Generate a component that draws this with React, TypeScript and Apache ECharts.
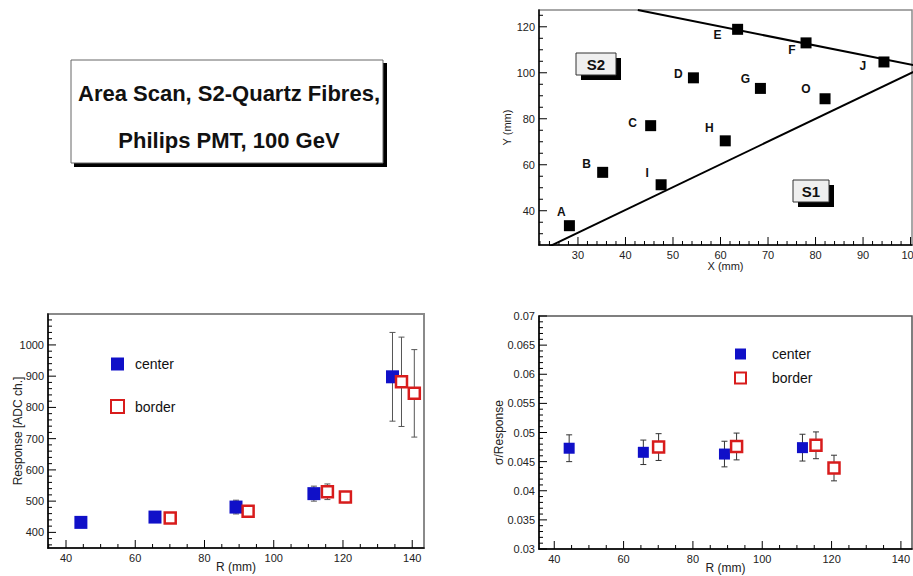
import React, { useEffect, useRef } from "react";
import * as echarts from "echarts";

// ---- Area scan: scan points in the X/Y plane of the module ----
const pointNames = ["A", "B", "C", "D", "E", "F", "G", "H", "I", "J", "O"];
const pointX = [28.2, 35.2, 45.3, 54.3, 63.6, 78.0, 68.4, 61.0, 47.5, 94.4, 82.0];
const pointY = [33.5, 56.7, 77.0, 97.8, 118.9, 113.0, 93.2, 70.4, 51.3, 104.7, 88.7];

// fibre-region boundaries (two straight edges)
const upperEdgeX = [42.6, 100.6];
const upperEdgeY = [127.3, 103.3];
const lowerEdgeX = [24.0, 100.6];
const lowerEdgeY = [24.5, 100.4];

// ---- Mean response vs. radius ----
const centerR = [44.3, 65.7, 89.1, 111.6, 134.3];
const centerResp = [432, 449, 481, 524, 898];
const centerRespErr = [12, 12, 22, 24, 142];

const borderR = [70.1, 92.6, 115.5, 120.7, 136.9, 140.6];
const borderResp = [446, 468, 530, 513, 882, 845];
const borderRespErr = [12, 14, 25, 18, 143, 140];

// ---- Relative resolution vs. radius ----
const sigmaCenterR = [44.3, 65.7, 89.1, 111.6];
const sigmaCenter = [0.0473, 0.0466, 0.0463, 0.0474];
const sigmaCenterErr = [0.0023, 0.0021, 0.0022, 0.0023];

const sigmaBorderR = [70.1, 92.6, 115.5, 120.7];
const sigmaBorder = [0.0475, 0.0476, 0.0478, 0.0439];
const sigmaBorderErr = [0.0023, 0.0023, 0.0023, 0.0022];

const titleLines = ["Area Scan, S2-Quartz Fibres,", "Philips PMT, 100 GeV"];

// axis ranges and tick steps: [min, max, major step, minor step]
const mapXAxis = [21.8, 100.3, 10, 2];
const mapYAxis = [25.1, 127.3, 20, 5];
const respXAxis = [34.8, 143.4, 20, 5];
const respYAxis = [350, 1099, 100, 20];
const sigXAxis = [35.6, 143.2, 20, 5];
const sigYAxis = [0.03, 0.07, 0.005, 0.001];

const panelAxes = [
  [mapXAxis, mapYAxis],
  [respXAxis, respYAxis],
  [sigXAxis, sigYAxis],
];

// label placement of the scan-point letters (pixel offset from the marker)
const letterOffsets: Record<string, [number, number]> = {
  A: [-8, -14],
  B: [-16, -8],
  C: [-18, -3],
  D: [-15, -4],
  E: [-20, 6],
  F: [-14, 7],
  G: [-15, -9],
  H: [-16, -13],
  I: [-14, -12],
  J: [-21, 4],
  O: [-19, -10],
};

const FONT = "'Liberation Sans', Arial, Helvetica, sans-serif";
const BLUE = "#1010c8";
const RED = "#d81c1c";

const plainNumber = (v: number) => String(+v.toPrecision(6));

// pixel boxes of the three plot frames
const frames = [
  { left: 539, top: 10, width: 373, height: 235, color: "#8a8a8a", lw: 1.5 },
  { left: 48, top: 314, width: 376, height: 234, color: "#8a8a8a", lw: 2 },
  { left: 539, top: 316, width: 373, height: 233, color: "#555", lw: 1.5 },
];

function valueAxis(range: number[], extra: any) {
  return {
    type: "value",
    min: range[0],
    max: range[1],
    axisLine: { show: true, onZero: false, lineStyle: { color: "#000", width: 1.5 } },
    axisTick: { show: false },
    minorTick: { show: false },
    splitLine: { show: false },
    axisLabel: {
      color: "#222",
      fontSize: 11,
      fontFamily: FONT,
      margin: 4,
      showMinLabel: false,
      showMaxLabel: false,
      formatter: plainNumber,
    },
    nameLocation: "middle",
    nameMoveOverlap: false,
    nameTextStyle: { color: "#222", fontSize: 12, fontFamily: FONT },
    ...extra,
  };
}

// tick values of an axis range: [value, isMajor]
function tickValues(axis: number[]): [number, boolean][] {
  const [min, max, major, minor] = axis;
  const ratio = Math.round(major / minor);
  const out: [number, boolean][] = [];
  for (let k = Math.ceil(min / minor - 1e-9); k * minor <= max + 1e-9; k++) {
    out.push([k * minor, k % ratio === 0]);
  }
  return out;
}

function errorBars(capHalf: number, color: string) {
  return (params: any, api: any) => {
    const x = api.value(0);
    const top = api.coord([x, api.value(2)]);
    const bot = api.coord([x, api.value(1)]);
    const style = { stroke: color, lineWidth: 1 };
    return {
      type: "group",
      children: [
        { type: "line", shape: { x1: top[0], y1: top[1], x2: bot[0], y2: bot[1] }, style },
        { type: "line", shape: { x1: top[0] - capHalf, y1: top[1], x2: top[0] + capHalf, y2: top[1] }, style },
        { type: "line", shape: { x1: bot[0] - capHalf, y1: bot[1], x2: bot[0] + capHalf, y2: bot[1] }, style },
      ],
    };
  };
}

const zip2 = (xs: number[], ys: number[]) => xs.map((x, i) => [x, ys[i]]);
const zipErr = (xs: number[], ys: number[], es: number[]) =>
  xs.map((x, i) => [x, ys[i] - es[i], ys[i] + es[i]]);

function staticGraphics(): any[] {
  return [
    // plot frames (top/right edges show; left/bottom are covered by the axes)
    ...frames.map((f) => ({
      type: "rect", z: -1, silent: true,
      shape: { x: f.left, y: f.top, width: f.width, height: f.height },
      style: { fill: "none", stroke: f.color, lineWidth: f.lw },
    })),
    // title box with drop shadow
    { type: "rect", shape: { x: 74, y: 63, width: 313, height: 104 }, style: { fill: "#000" }, silent: true },
    { type: "rect", shape: { x: 71, y: 60, width: 312, height: 103 }, style: { fill: "#fff", stroke: "#666", lineWidth: 1 }, silent: true },
    {
      type: "text", x: 229, y: 93, silent: true,
      style: { text: titleLines[0], fill: "#111", font: `bold 22px ${FONT}`, align: "center", verticalAlign: "middle" },
    },
    {
      type: "text", x: 229, y: 140, silent: true,
      style: { text: titleLines[1], fill: "#111", font: `bold 22px ${FONT}`, align: "center", verticalAlign: "middle" },
    },
    // region tags
    { type: "rect", shape: { x: 581, y: 58, width: 40, height: 22 }, style: { fill: "#000" }, silent: true, z: 10 },
    { type: "rect", shape: { x: 576, y: 53, width: 40, height: 22 }, style: { fill: "#efefef", stroke: "#333", lineWidth: 1 }, silent: true, z: 10 },
    {
      type: "text", x: 596, y: 64, z: 10, silent: true,
      style: { text: "S2", fill: "#111", font: `bold 15px ${FONT}`, align: "center", verticalAlign: "middle" },
    },
    { type: "rect", shape: { x: 798, y: 185, width: 36, height: 22 }, style: { fill: "#000" }, silent: true, z: 10 },
    { type: "rect", shape: { x: 793, y: 180, width: 36, height: 22 }, style: { fill: "#efefef", stroke: "#333", lineWidth: 1 }, silent: true, z: 10 },
    {
      type: "text", x: 811, y: 191, z: 10, silent: true,
      style: { text: "S1", fill: "#111", font: `bold 15px ${FONT}`, align: "center", verticalAlign: "middle" },
    },
  ];
}

// inward-pointing ticks along the bottom and left axes, placed through each grid's scales
function tickGraphics(chart: any): any[] {
  const out: any[] = [];
  const style = { stroke: "#000", lineWidth: 1 };
  panelAxes.forEach(([xAx, yAx], gridIndex) => {
    tickValues(xAx).forEach(([v, isMajor]) => {
      const p = chart.convertToPixel({ gridIndex }, [v, yAx[0]]);
      if (!p) return;
      const len = isMajor ? 8 : 4;
      out.push({ type: "line", silent: true, z: 20, shape: { x1: p[0], y1: p[1], x2: p[0], y2: p[1] - len }, style });
    });
    tickValues(yAx).forEach(([v, isMajor]) => {
      const p = chart.convertToPixel({ gridIndex }, [xAx[0], v]);
      if (!p) return;
      const len = isMajor ? 8 : 4;
      out.push({ type: "line", silent: true, z: 20, shape: { x1: p[0], y1: p[1], x2: p[0] + len, y2: p[1] }, style });
    });
  });
  return out;
}

function buildOption(): any {
  return {
    animation: false,
    backgroundColor: "#ffffff",
    textStyle: { fontFamily: FONT },
    grid: frames.map((f) => ({
      left: f.left, top: f.top, width: f.width, height: f.height,
      show: false, outerBoundsMode: "none",
    })),
    xAxis: [
      valueAxis(mapXAxis, {
        gridIndex: 0, splitNumber: 8,
        name: "X (mm)", nameGap: 15, nameTextStyle: { color: "#222", fontSize: 11, fontFamily: FONT },
      }),
      valueAxis(respXAxis, { gridIndex: 1, splitNumber: 5, name: "R (mm)", nameGap: 13 }),
      valueAxis(sigXAxis, { gridIndex: 2, splitNumber: 5, name: "R (mm)", nameGap: 13 }),
    ],
    yAxis: [
      valueAxis(mapYAxis, {
        gridIndex: 0, splitNumber: 5,
        name: "Y (mm)", nameGap: 27, nameTextStyle: { color: "#222", fontSize: 11, fontFamily: FONT },
      }),
      valueAxis(respYAxis, { gridIndex: 1, splitNumber: 7, name: "Response [ADC ch.]", nameGap: 24 }),
      valueAxis(sigYAxis, {
        gridIndex: 2, splitNumber: 8,
        axisLabel: {
          color: "#222", fontSize: 11, fontFamily: FONT, margin: 4,
          showMinLabel: true, showMaxLabel: true, formatter: plainNumber,
        },
        name: "σ/Response", nameGap: 34,
      }),
    ],
    legend: [
      {
        data: ["center", "border"], orient: "vertical", left: 105, top: 352,
        itemWidth: 13, itemHeight: 13, itemGap: 28, selectedMode: false,
        textStyle: { fontSize: 14, color: "#111", fontFamily: FONT, padding: [0, 0, 0, 6] },
      },
      {
        data: ["center", "border"], orient: "vertical", left: 729, top: 342,
        itemWidth: 11, itemHeight: 11, itemGap: 10, selectedMode: false,
        textStyle: { fontSize: 14, color: "#111", fontFamily: FONT, padding: [0, 0, 0, 21] },
      },
    ],
    graphic: staticGraphics(),
    series: [
      // --- area scan map ---
      {
        type: "line", xAxisIndex: 0, yAxisIndex: 0, symbol: "none", clip: true,
        data: zip2(upperEdgeX, upperEdgeY), lineStyle: { color: "#000", width: 2 },
      },
      {
        type: "line", xAxisIndex: 0, yAxisIndex: 0, symbol: "none", clip: true,
        data: zip2(lowerEdgeX, lowerEdgeY), lineStyle: { color: "#000", width: 2 },
      },
      {
        type: "scatter", xAxisIndex: 0, yAxisIndex: 0, symbol: "rect", symbolSize: 11,
        itemStyle: { color: "#000", opacity: 1 },
        data: pointNames.map((n, i) => ({
          name: n, value: [pointX[i], pointY[i]], label: { offset: letterOffsets[n] },
        })),
        label: {
          show: true, position: "inside", formatter: "{b}",
          color: "#111", fontSize: 12, fontWeight: "bold", fontFamily: FONT,
        },
      },
      // --- response vs R ---
      {
        type: "custom", name: "centerErr", xAxisIndex: 1, yAxisIndex: 1,
        renderItem: errorBars(3, "#555"), encode: { x: 0, y: [1, 2] },
        data: zipErr(centerR, centerResp, centerRespErr),
      },
      {
        type: "custom", name: "borderErr", xAxisIndex: 1, yAxisIndex: 1,
        renderItem: errorBars(3, "#555"), encode: { x: 0, y: [1, 2] },
        data: zipErr(borderR, borderResp, borderRespErr),
      },
      {
        type: "scatter", name: "center", xAxisIndex: 1, yAxisIndex: 1, symbol: "rect", symbolSize: 13, z: 3,
        itemStyle: { color: BLUE, opacity: 1 }, data: zip2(centerR, centerResp),
      },
      {
        type: "scatter", name: "border", xAxisIndex: 1, yAxisIndex: 1, symbol: "rect", symbolSize: 11, z: 4,
        itemStyle: { color: "#fff", borderColor: RED, borderWidth: 2.5, opacity: 1 },
        data: zip2(borderR, borderResp),
      },
      // --- sigma/response vs R ---
      {
        type: "custom", name: "sigmaCenterErr", xAxisIndex: 2, yAxisIndex: 2,
        renderItem: errorBars(3, "#333"), encode: { x: 0, y: [1, 2] },
        data: zipErr(sigmaCenterR, sigmaCenter, sigmaCenterErr),
      },
      {
        type: "custom", name: "sigmaBorderErr", xAxisIndex: 2, yAxisIndex: 2,
        renderItem: errorBars(3, "#333"), encode: { x: 0, y: [1, 2] },
        data: zipErr(sigmaBorderR, sigmaBorder, sigmaBorderErr),
      },
      {
        type: "scatter", name: "center", xAxisIndex: 2, yAxisIndex: 2, symbol: "rect", symbolSize: 11, z: 3,
        itemStyle: { color: BLUE, opacity: 1 }, data: zip2(sigmaCenterR, sigmaCenter),
      },
      {
        type: "scatter", name: "border", xAxisIndex: 2, yAxisIndex: 2, symbol: "rect", symbolSize: 11, z: 4,
        itemStyle: { color: "#fff", borderColor: RED, borderWidth: 2.5, opacity: 1 },
        data: zip2(sigmaBorderR, sigmaBorder),
      },
    ],
  };
}

export default function App() {
  const ref = useRef<HTMLDivElement>(null);
  useEffect(() => {
    if (!ref.current) return;
    const chart = echarts.init(ref.current, null, { renderer: "svg" });
    chart.setOption(buildOption());
    // second pass: add the axis ticks once the grids' scales are laid out
    chart.setOption({ graphic: [...staticGraphics(), ...tickGraphics(chart)] });
    return () => chart.dispose();
  }, []);
  return (
    <div
      ref={ref}
      style={{ position: "absolute", left: 0, top: 0, width: 913, height: 576, background: "#fff" }}
    />
  );
}
